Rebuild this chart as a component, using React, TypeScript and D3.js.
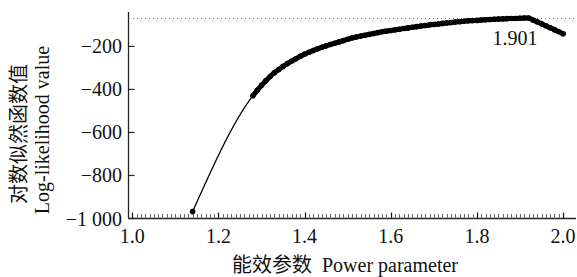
import React from "react";
import * as d3 from "d3";

// power parameter values (x) and log-likelihood (y)
const powerParams = [
  1.14, 1.28, 1.29, 1.3, 1.31, 1.32, 1.33, 1.34, 1.35, 1.36, 1.37, 1.38, 1.39,
  1.4, 1.41, 1.42, 1.43, 1.44, 1.45, 1.46, 1.47, 1.48, 1.49, 1.5, 1.51, 1.52,
  1.53, 1.54, 1.55, 1.56, 1.57, 1.58, 1.59, 1.6, 1.61, 1.62, 1.63, 1.64, 1.65,
  1.66, 1.67, 1.68, 1.69, 1.7, 1.71, 1.72, 1.73, 1.74, 1.75, 1.76, 1.77, 1.78,
  1.79, 1.8, 1.81, 1.82, 1.83, 1.84, 1.85, 1.86, 1.87, 1.88, 1.89, 1.9, 1.91,
  1.92, 1.93, 1.94, 1.95, 1.96, 1.97, 1.98, 1.99, 2.0,
];
const logLik = [
  -968, -429, -404, -381, -360, -340, -322, -307, -293, -280, -268, -257, -246,
  -236, -227, -219, -211, -204, -197, -191, -185, -179, -173, -167, -161, -156,
  -152, -148, -144, -140, -136, -132, -129, -126, -123, -120, -117, -114, -111,
  -108, -105, -103, -100, -98, -96, -93, -91, -89, -87, -85, -83, -81, -80,
  -79, -77, -76, -75, -74, -73, -72, -71, -70, -70, -69, -68, -68, -77, -86,
  -95, -104, -113, -122, -132, -141,
];
const maxLogLik = -70;
const bestPower = "1.901";

const xTicks = [1.0, 1.2, 1.4, 1.6, 1.8, 2.0];
const yTicks = [-1000, -800, -600, -400, -200];

const W = 577;
const H = 277;
const FONT = "'Liberation Serif', 'Times New Roman', 'Noto Sans CJK SC', serif";

const locale = d3.formatLocale({
  decimal: ".",
  thousands: " ",
  grouping: [3],
  currency: ["", ""],
  minus: "\u2212",
});
const fmtY = locale.format(",d");
const fmtX = d3.format(".1f");

const crisp = (v: number) => Math.round(v) + 0.5;

export default function App() {
  const x = d3.scaleLinear().domain([0.99, 2.03]).range([128, 576]);
  const y = d3.scaleLinear().domain([-1000, -40]).range([218.5, 12]);
  const x0 = 128.5;
  const y0 = y(-1000);

  const pts = powerParams.map((p, i) => [p, logLik[i]] as [number, number]);
  const dense = pts.slice(1);
  const line = d3
    .line<[number, number]>()
    .x((d) => x(d[0]))
    .y((d) => y(d[1]))
    .curve(d3.curveMonotoneX);

  const minor = d3.range(101, 201).map((v) => v / 100);

  return (
    <svg
      width={W}
      height={H}
      style={{ position: "absolute", left: 0, top: 0, background: "#fff" }}
      fontFamily={FONT}
    >
      {/* max reference line */}
      <line
        x1={133}
        x2={W}
        y1={crisp(y(maxLogLik))}
        y2={crisp(y(maxLogLik))}
        stroke="#777"
        strokeWidth={1}
        strokeDasharray="1,3"
      />

      {/* axes */}
      <line x1={x0} x2={x0} y1={12} y2={y0} stroke="#222" strokeWidth={1.3} />
      <line x1={x0} x2={576} y1={y0} y2={y0} stroke="#222" strokeWidth={1.3} />

      {minor.map((t) => (
        <line
          key={t}
          x1={crisp(x(t))}
          x2={crisp(x(t))}
          y1={y0}
          y2={y0 - 4.5}
          stroke="#666"
          strokeWidth={1}
        />
      ))}
      {xTicks.map((t) => (
        <g key={t}>
          <line
            x1={crisp(x(t))}
            x2={crisp(x(t))}
            y1={y0}
            y2={y0 - 6}
            stroke="#111"
            strokeWidth={1.2}
          />
          <text x={x(t)} y={y0 + 24.5} textAnchor="middle" fontSize={20} fill="#111">
            {fmtX(t)}
          </text>
        </g>
      ))}
      {yTicks.map((t) => (
        <g key={t}>
          <line x1={x0} x2={x0 + 6} y1={y(t)} y2={y(t)} stroke="#222" strokeWidth={1.2} />
          <text x={122} y={y(t)} dy="0.35em" textAnchor="end" fontSize={20} fill="#111">
            {fmtY(t)}
          </text>
        </g>
      ))}

      {/* curve: thin connector, dense markers forming a thick band */}
      <path d={line(pts) ?? ""} fill="none" stroke="#000" strokeWidth={1.3} />
      <path
        d={line(dense) ?? ""}
        fill="none"
        stroke="#000"
        strokeWidth={5}
        strokeLinecap="round"
        strokeLinejoin="round"
      />
      {pts.map((d, i) => (
        <circle key={i} cx={x(d[0])} cy={y(d[1])} r={2.8} fill="#000" />
      ))}

      <text x={515} y={45} textAnchor="middle" fontSize={20} fill="#111">
        {bestPower}
      </text>

      {/* axis titles */}
      <text x={345} y={272} textAnchor="middle" fontSize={20} fill="#111">
        能效参数{"\u00a0\u00a0"}Power parameter
      </text>
      <text
        transform="translate(26,134) rotate(-90)"
        textAnchor="middle"
        fontSize={20}
        fill="#111"
      >
        对数似然函数值
      </text>
      <text
        transform="translate(49,130) rotate(-90)"
        textAnchor="middle"
        fontSize={20}
        fill="#111"
      >
        Log-likelihood value
      </text>
    </svg>
  );
}
